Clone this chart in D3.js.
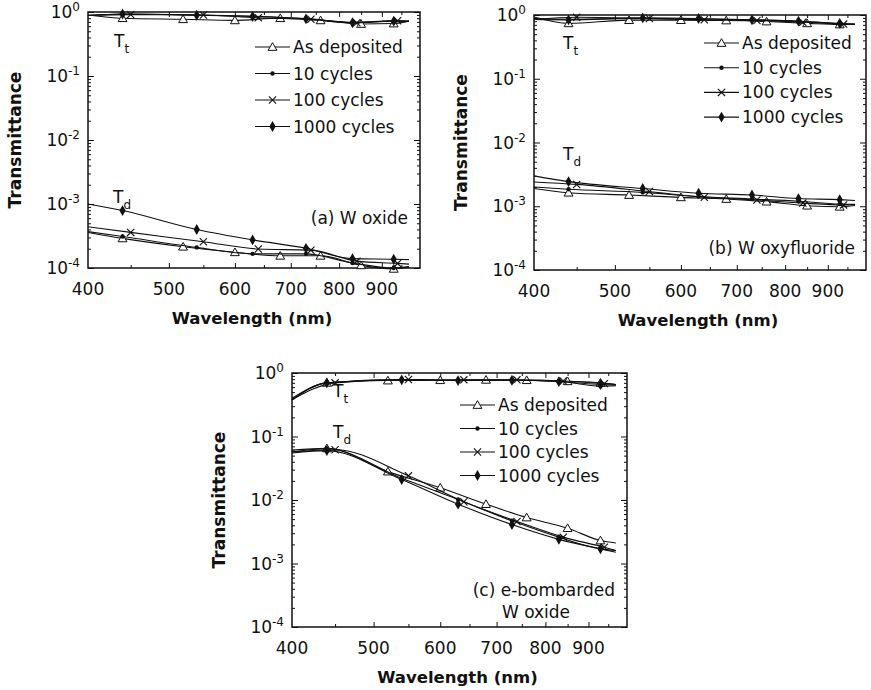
<!DOCTYPE html>
<html>
<head>
<meta charset="utf-8">
<script src="https://cdn.jsdelivr.net/npm/d3@7"></script>
<style>
body { margin: 0; background: #fff; }
text { font-family: "DejaVu Sans", sans-serif; fill: #111; }
</style>
</head>
<body>
<svg id="fig" width="871" height="690"></svg>
<script>
// series + marker wavelengths (first and last point are curve ends, no marker)
const seriesNames = ['As deposited', '10 cycles', '100 cycles', '1000 cycles'];
const seriesMarks = ['triangle', 'dot', 'cross', 'diamond'];
const wlAD   = [400, 440, 520, 600, 680, 760, 850, 930, 970];
const wl10   = [400, 440, 540, 630, 730, 830, 930, 970];
const wl100  = [400, 450, 550, 640, 740, 840, 940, 970];
const wl1000 = [400, 440, 540, 630, 730, 830, 930, 970];
const xTickLabels = [400, 500, 600, 700, 800, 900];
const yDecades = [1e-4, 1e-3, 1e-2, 1e-1, 1];
const yExponents = ['-4', '-3', '-2', '-1', '0'];

// (a) W oxide
const aTtAD   = [0.90, 0.80, 0.77, 0.74, 0.80, 0.74, 0.65, 0.66, 0.72];
const aTt10   = [0.88, 0.93, 0.90, 0.86, 0.79, 0.69, 0.73, 0.72];
const aTt100  = [0.88, 0.91, 0.90, 0.81, 0.77, 0.68, 0.73, 0.72];
const aTt1000 = [0.88, 0.93, 0.89, 0.85, 0.78, 0.68, 0.72, 0.71];
const aTdAD   = [3.6e-4, 2.9e-4, 2.15e-4, 1.76e-4, 1.55e-4, 1.55e-4, 1.1e-4, 0.97e-4, 1.03e-4];
const aTd10   = [3.7e-4, 3.1e-4, 2.1e-4, 1.66e-4, 1.66e-4, 1.2e-4, 1.0e-4, 1.05e-4];
const aTd100  = [4.4e-4, 3.6e-4, 2.57e-4, 1.98e-4, 1.9e-4, 1.28e-4, 1.18e-4, 1.15e-4];
const aTd1000 = [1.0e-3, 7.9e-4, 4.0e-4, 2.75e-4, 2.03e-4, 1.4e-4, 1.37e-4, 1.35e-4];

// (b) W oxyfluoride
const bTtAD   = [0.93, 0.74, 0.83, 0.83, 0.82, 0.79, 0.74, 0.71, 0.71];
const bTt10   = [0.88, 0.86, 0.88, 0.86, 0.84, 0.80, 0.73, 0.72];
const bTt100  = [0.85, 0.92, 0.88, 0.84, 0.82, 0.77, 0.72, 0.71];
const bTt1000 = [0.85, 0.84, 0.90, 0.88, 0.84, 0.80, 0.74, 0.72];
const bTdAD   = [1.9e-3, 1.63e-3, 1.5e-3, 1.38e-3, 1.3e-3, 1.18e-3, 1.02e-3, 0.98e-3, 1.03e-3];
const bTd10   = [2.0e-3, 1.85e-3, 1.65e-3, 1.42e-3, 1.3e-3, 1.2e-3, 1.08e-3, 1.07e-3];
const bTd100  = [2.4e-3, 2.2e-3, 1.7e-3, 1.38e-3, 1.25e-3, 1.12e-3, 1.05e-3, 1.06e-3];
const bTd1000 = [3.0e-3, 2.43e-3, 1.9e-3, 1.6e-3, 1.5e-3, 1.32e-3, 1.27e-3, 1.23e-3];

// (c) e-bombarded W oxide
const cTtAD   = [0.40, 0.70, 0.76, 0.77, 0.78, 0.77, 0.74, 0.70, 0.66];
const cTt10   = [0.38, 0.70, 0.79, 0.76, 0.77, 0.74, 0.62, 0.63];
const cTt100  = [0.38, 0.70, 0.79, 0.78, 0.78, 0.75, 0.68, 0.66];
const cTt1000 = [0.38, 0.70, 0.78, 0.76, 0.77, 0.73, 0.66, 0.64];
const cTdAD   = [0.061, 0.065, 0.028, 0.0156, 0.0086, 0.0053, 0.0036, 0.0023, 0.0021];
const cTd10   = [0.057, 0.064, 0.022, 0.0102, 0.0047, 0.0026, 0.0017, 0.0016];
const cTd100  = [0.057, 0.062, 0.024, 0.0094, 0.0046, 0.0026, 0.0018, 0.0016];
const cTd1000 = [0.055, 0.060, 0.021, 0.0086, 0.0041, 0.0024, 0.0017, 0.0015];

const wls = [wlAD, wl10, wl100, wl1000];

const panels = [
  { left: 88, right: 420, top: 12, bottom: 268,
    curves: [aTtAD, aTt10, aTt100, aTt1000, aTdAD, aTd10, aTd100, aTd1000],
    label: ['(a) W oxide'], labelX: 408, labelY: 224,
    tt: [114, 47], td: [113, 203], legX: 255, legY: 47, legGap: 26.5 },
  { left: 534, right: 866, top: 15, bottom: 270,
    curves: [bTtAD, bTt10, bTt100, bTt1000, bTdAD, bTd10, bTd100, bTd1000],
    label: ['(b) W oxyfluoride'], labelX: 855, labelY: 254,
    tt: [563, 49], td: [563, 160], legX: 704, legY: 43, legGap: 24.7 },
  { left: 292, right: 627, top: 373, bottom: 627,
    curves: [cTtAD, cTt10, cTt100, cTt1000, cTdAD, cTd10, cTd100, cTd1000],
    label: ['(c) e-bombarded', 'W oxide'], labelX: 615, labelY: 596,
    tt: [333, 397], td: [333, 438], legX: 460, legY: 405, legGap: 23.5 }
];

const svg = d3.select('#fig');

function drawMark(g, kind, cx, cy) {
  if (kind === 'triangle') {
    g.append('path').attr('d', d3.symbol(d3.symbolTriangle, 34)())
      .attr('transform', `translate(${cx},${cy + 0.8})`)
      .attr('fill', '#fff').attr('stroke', '#111').attr('stroke-width', 1);
  } else if (kind === 'dot') {
    g.append('circle').attr('cx', cx).attr('cy', cy).attr('r', 2.2).attr('fill', '#111');
  } else if (kind === 'cross') {
    const s = 3.6;
    g.append('path').attr('d', `M${cx - s},${cy - s}L${cx + s},${cy + s}M${cx - s},${cy + s}L${cx + s},${cy - s}`)
      .attr('stroke', '#111').attr('stroke-width', 1.1);
  } else {
    g.append('path').attr('d', d3.symbol(d3.symbolDiamond, 34)())
      .attr('transform', `translate(${cx},${cy})`).attr('fill', '#111');
  }
}

panels.forEach(p => {
  const x = d3.scaleLog().domain([400, 1000]).range([p.left, p.right]);
  const y = d3.scaleLog().domain([1e-4, 1]).range([p.bottom, p.top]);
  const g = svg.append('g');

  // ticks, inward on all four sides
  const yMinor = y.ticks().filter(v => !yDecades.some(d => Math.abs(d - v) / d < 1e-6));
  const xMajor = [500, 600, 700, 800, 900];
  const xMinor = [450, 550, 650, 750, 850, 950];
  const tickAxis = (axis, vals, len, tr) => {
    const a = g.append('g').attr('transform', tr)
      .call(axis.tickValues(vals).tickSize(-len).tickFormat(''));
    a.select('.domain').remove();
    a.selectAll('line').attr('stroke', '#111').attr('stroke-width', 1);
  };
  tickAxis(d3.axisLeft(y), yDecades, 6, `translate(${p.left},0)`);
  tickAxis(d3.axisLeft(y), yMinor, 3, `translate(${p.left},0)`);
  tickAxis(d3.axisRight(y), yDecades, 6, `translate(${p.right},0)`);
  tickAxis(d3.axisRight(y), yMinor, 3, `translate(${p.right},0)`);
  tickAxis(d3.axisBottom(x), xMajor, 5, `translate(0,${p.bottom})`);
  tickAxis(d3.axisBottom(x), xMinor, 3, `translate(0,${p.bottom})`);
  tickAxis(d3.axisTop(x), xMajor, 5, `translate(0,${p.top})`);
  tickAxis(d3.axisTop(x), xMinor, 3, `translate(0,${p.top})`);

  // frame
  g.append('rect').attr('x', p.left).attr('y', p.top)
    .attr('width', p.right - p.left).attr('height', p.bottom - p.top)
    .attr('fill', 'none').attr('stroke', '#111').attr('stroke-width', 1.5);

  // y tick labels 10^n
  yDecades.forEach((v, i) => {
    const t = g.append('text').attr('x', p.left - 8).attr('y', y(v) + 6)
      .attr('text-anchor', 'end').style('font-size', '17px');
    t.append('tspan').text('10');
    t.append('tspan').attr('dy', -7).style('font-size', '12px').text(yExponents[i]);
  });
  // x tick labels
  g.selectAll('.xl').data(xTickLabels).enter().append('text')
    .attr('x', d => x(d)).attr('y', p.bottom + 27)
    .attr('text-anchor', 'middle').style('font-size', '17px').text(d => d);

  // axis titles
  g.append('text').attr('x', (p.left + p.right) / 2 - 2).attr('y', p.bottom + 56)
    .attr('text-anchor', 'middle').style('font-size', '16.5px').style('font-weight', 'bold')
    .text('Wavelength (nm)');
  g.append('text')
    .attr('transform', `translate(${p.left - 67},${(p.top + p.bottom) / 2}) rotate(-90)`)
    .attr('text-anchor', 'middle').style('font-size', '17px').style('font-weight', 'bold')
    .text('Transmittance');

  // curves
  const line = d3.line().x(d => x(d[0])).y(d => y(d[1])).curve(d3.curveMonotoneX);
  p.curves.forEach((vals, i) => {
    const s = i % 4;
    const pts = wls[s].map((w, j) => [w, vals[j]]);
    g.append('path').attr('d', line(pts)).attr('fill', 'none')
      .attr('stroke', '#111').attr('stroke-width', 1.1);
    pts.slice(1, -1).forEach(d => drawMark(g, seriesMarks[s], x(d[0]), y(d[1])));
  });

  // legend
  seriesNames.forEach((name, i) => {
    const ly = p.legY + i * p.legGap;
    g.append('line').attr('x1', p.legX).attr('x2', p.legX + 35)
      .attr('y1', ly).attr('y2', ly).attr('stroke', '#111').attr('stroke-width', 1.1);
    drawMark(g, seriesMarks[i], p.legX + 17.5, ly);
    g.append('text').attr('x', p.legX + 38).attr('y', ly + 6)
      .style('font-size', '17px').text(name);
  });

  // panel label
  g.append('text').attr('x', p.labelX).attr('y', p.labelY)
    .attr('text-anchor', 'end').style('font-size', '17px').text(p.label[0]);
  if (p.label[1]) {
    g.append('text').attr('x', p.labelX - 79).attr('y', p.labelY + 22)
      .attr('text-anchor', 'middle').style('font-size', '17px').text(p.label[1]);
  }

  // T_t and T_d
  [[p.tt, 't'], [p.td, 'd']].forEach(([pos, sub]) => {
    const t = g.append('text').attr('x', pos[0]).attr('y', pos[1]).style('font-size', '17px');
    t.append('tspan').text('T');
    t.append('tspan').attr('dy', 6).style('font-size', '12px').text(sub);
  });
});
</script>
</body>
</html>
